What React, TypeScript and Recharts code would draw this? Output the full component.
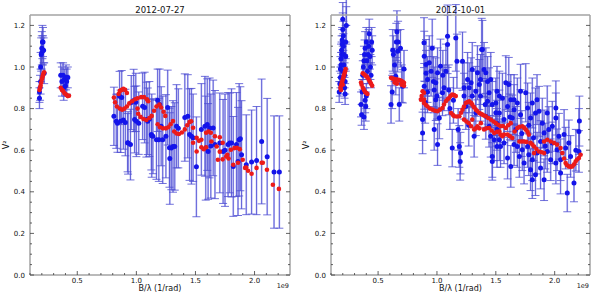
import React from 'react';
import { ScatterChart, Scatter, XAxis, YAxis, ErrorBar } from 'recharts';

const FONT = '"DejaVu Sans", Verdana, sans-serif';
const BLUE = '#1414ea';
const RED = '#ec1a1a';
const FRAME = '#a3a3a3';
const TICK = '#3a3a3a';

const titles = ['2012-07-27', '2012-10-01'];
const xLabel = 'B/λ (1/rad)';
const yLabel = 'V²';
const offsetText = '1e9';
const xDomain = [0.1, 2.3];
const yDomain = [0, 1.25];
const xTicks = [0.1, 0.2, 0.3, 0.4, 0.5, 0.6, 0.7, 0.8, 0.9, 1.0, 1.1, 1.2, 1.3, 1.4, 1.5, 1.6, 1.7, 1.8, 1.9, 2.0, 2.1, 2.2];
const xMajor = [0.5, 1.0, 1.5, 2.0];
const yTicks = [0, 0.05, 0.1, 0.15, 0.2, 0.25, 0.3, 0.35, 0.4, 0.45, 0.5, 0.55, 0.6, 0.65, 0.7, 0.75, 0.8, 0.85, 0.9, 0.95, 1.0, 1.05, 1.1, 1.15, 1.2];
const yMajor = [0, 0.2, 0.4, 0.6, 0.8, 1.0, 1.2];

// [B/lambda (1e9), V^2, error]
const leftBlue = [
  [0.18, 0.85, 0.05], [0.18, 0.88, 0.05], [0.185, 0.9, 0.06], [0.19, 0.93, 0.06], [0.19, 1.0, 0.07],
  [0.195, 1.06, 0.08], [0.2, 1.07, 0.08], [0.2, 1.09, 0.08], [0.205, 1.12, 0.08], [0.21, 1.08, 0.07],
  [0.21, 1.12, 0.07], [0.215, 1.08, 0.06], [0.22, 0.97, 0.05],
  [0.36, 0.96, 0.06], [0.37, 0.93, 0.07], [0.38, 0.96, 0.06], [0.385, 0.9, 0.06], [0.39, 0.94, 0.05],
  [0.4, 0.91, 0.05], [0.405, 0.95, 0.06], [0.41, 0.93, 0.06], [0.42, 0.95, 0.05],
  [0.81, 0.763, 0.14], [0.83, 0.739, 0.13], [0.84, 0.73, 0.14], [0.858, 0.859, 0.12], [0.867, 0.739, 0.15],
  [0.876, 0.853, 0.13], [0.89, 0.745, 0.14], [0.907, 0.733, 0.16], [0.926, 0.636, 0.14], [0.93, 0.635, 0.15],
  [0.95, 0.627, 0.17], [0.957, 0.829, 0.13], [0.977, 0.839, 0.15], [0.985, 0.747, 0.16], [0.995, 0.83, 0.14],
  [1.0, 0.739, 0.17], [1.02, 0.73, 0.15], [1.053, 0.811, 0.16], [1.07, 0.805, 0.17], [1.085, 0.747, 0.18],
  [1.096, 0.739, 0.16], [1.11, 0.75, 0.18], [1.127, 0.675, 0.17], [1.13, 0.67, 0.2], [1.14, 0.667, 0.18],
  [1.17, 0.65, 0.19], [1.18, 0.84, 0.15], [1.19, 0.65, 0.2], [1.197, 0.82, 0.17], [1.21, 0.715, 0.19],
  [1.223, 0.65, 0.21], [1.25, 0.667, 0.2], [1.265, 0.805, 0.18], [1.28, 0.612, 0.19], [1.283, 0.56, 0.22],
  [1.296, 0.61, 0.2], [1.31, 0.618, 0.22], [1.325, 0.618, 0.21], [1.34, 0.715, 0.2], [1.355, 0.705, 0.19],
  [1.41, 0.757, 0.21], [1.435, 0.763, 0.2], [1.45, 0.675, 0.22], [1.466, 0.667, 0.23], [1.48, 0.66, 0.21],
  [1.508, 0.52, 0.24], [1.55, 0.7, 0.22], [1.58, 0.715, 0.24], [1.6, 0.723, 0.22], [1.587, 0.61, 0.25],
  [1.607, 0.594, 0.23], [1.62, 0.707, 0.24], [1.63, 0.62, 0.25], [1.65, 0.707, 0.23], [1.665, 0.627, 0.26],
  [1.706, 0.635, 0.24], [1.734, 0.594, 0.25], [1.75, 0.6, 0.27], [1.776, 0.627, 0.25], [1.79, 0.635, 0.24],
  [1.805, 0.635, 0.26], [1.82, 0.522, 0.24], [1.847, 0.627, 0.25], [1.86, 0.546, 0.26], [1.87, 0.65, 0.27],
  [1.88, 0.655, 0.25], [1.89, 0.578, 0.26], [1.93, 0.53, 0.24], [1.975, 0.543, 0.25], [2.017, 0.55, 0.26],
  [2.06, 0.642, 0.3], [2.107, 0.569, 0.28], [2.165, 0.495, 0.27], [2.21, 0.495, 0.27],
];

// [B/lambda (1e9), model V^2]
const leftRed = [
  [0.18, 0.89], [0.185, 0.9], [0.19, 0.91], [0.195, 0.925], [0.2, 0.94], [0.205, 0.95], [0.21, 0.96], [0.215, 0.97], [0.22, 0.975],
  [0.36, 0.9], [0.37, 0.89], [0.38, 0.885], [0.39, 0.875], [0.4, 0.87], [0.41, 0.865], [0.42, 0.86], [0.43, 0.862],
  [0.81, 0.853], [0.82, 0.83], [0.835, 0.81], [0.85, 0.87], [0.86, 0.885], [0.875, 0.89], [0.89, 0.895], [0.905, 0.89],
  [0.92, 0.875], [0.86, 0.8], [0.88, 0.795], [0.9, 0.8], [0.92, 0.81], [0.94, 0.825], [0.965, 0.835], [0.99, 0.845],
  [1.01, 0.85], [1.04, 0.855], [1.065, 0.855], [1.09, 0.845], [1.1, 0.835], [1.01, 0.8], [1.015, 0.775], [1.035, 0.76],
  [1.06, 0.75], [1.085, 0.745], [1.11, 0.755], [1.13, 0.765], [1.15, 0.79], [1.17, 0.81], [1.195, 0.82], [1.21, 0.805],
  [1.23, 0.785], [1.245, 0.765], [1.18, 0.725], [1.2, 0.71], [1.225, 0.705], [1.25, 0.705], [1.27, 0.71], [1.29, 0.725],
  [1.31, 0.74], [1.32, 0.69], [1.34, 0.68], [1.36, 0.678], [1.385, 0.685], [1.41, 0.7], [1.43, 0.72], [1.45, 0.735],
  [1.464, 0.739], [1.48, 0.708], [1.48, 0.636], [1.51, 0.66], [1.51, 0.594], [1.53, 0.645], [1.55, 0.65], [1.55, 0.614],
  [1.57, 0.605], [1.59, 0.614], [1.59, 0.684], [1.61, 0.69], [1.63, 0.684], [1.635, 0.642], [1.665, 0.667], [1.68, 0.618],
  [1.69, 0.554], [1.706, 0.662], [1.706, 0.593], [1.73, 0.636], [1.73, 0.556], [1.76, 0.57], [1.77, 0.578], [1.78, 0.56],
  [1.8, 0.602], [1.82, 0.53], [1.83, 0.61], [1.85, 0.612], [1.86, 0.54], [1.875, 0.605], [1.9, 0.554], [1.92, 0.515],
  [1.93, 0.517], [1.945, 0.501], [1.975, 0.487], [2.017, 0.515], [2.06, 0.54], [2.07, 0.54], [2.105, 0.506],
  [2.155, 0.434], [2.206, 0.414],
];

const rightBlue = [
  [0.17, 0.88, 0.05], [0.175, 0.92, 0.06], [0.18, 0.95, 0.05], [0.18, 0.99, 0.06], [0.185, 1.01, 0.06],
  [0.185, 1.04, 0.07], [0.19, 1.06, 0.06], [0.19, 1.08, 0.07], [0.195, 1.11, 0.07], [0.195, 1.13, 0.06],
  [0.2, 1.18, 0.08], [0.2, 1.23, 0.08], [0.205, 1.15, 0.07], [0.205, 1.1, 0.06], [0.21, 1.06, 0.06],
  [0.21, 1.01, 0.05], [0.215, 0.96, 0.06], [0.215, 0.9, 0.05], [0.22, 0.87, 0.05], [0.22, 0.93, 0.06],
  [0.225, 1.05, 0.07], [0.225, 1.12, 0.08], [0.23, 1.2, 0.09], [0.23, 1.28, 0.08], [0.2, 0.98, 0.05],
  [0.355, 0.82, 0.06], [0.36, 0.77, 0.05], [0.365, 0.88, 0.06], [0.37, 0.96, 0.07], [0.375, 1.0, 0.06],
  [0.38, 1.03, 0.07], [0.385, 1.06, 0.07], [0.39, 1.09, 0.08], [0.395, 0.81, 0.07], [0.4, 0.86, 0.06],
  [0.4, 1.12, 0.07], [0.405, 1.03, 0.06], [0.41, 0.98, 0.06], [0.415, 1.06, 0.07], [0.42, 1.1, 0.08],
  [0.425, 1.16, 0.07], [0.43, 1.05, 0.06], [0.435, 1.0, 0.06], [0.44, 0.96, 0.06], [0.445, 1.12, 0.07],
  [0.45, 1.08, 0.07], [0.39, 0.84, 0.06], [0.38, 0.76, 0.06],
  [0.61, 0.82, 0.09], [0.62, 0.88, 0.08], [0.624, 1.08, 0.1], [0.63, 1.06, 0.09], [0.64, 1.01, 0.08],
  [0.65, 0.956, 0.09], [0.655, 1.12, 0.09], [0.66, 1.17, 0.1], [0.666, 1.076, 0.1], [0.67, 1.12, 0.1],
  [0.68, 0.82, 0.08], [0.69, 1.09, 0.09], [0.7, 0.92, 0.09], [0.71, 0.907, 0.08], [0.72, 0.99, 0.09],
  [0.878, 0.747, 0.1], [0.878, 0.683, 0.1], [0.89, 1.117, 0.12], [0.892, 1.052, 0.12], [0.892, 0.907, 0.11],
  [0.9, 0.83, 0.1], [0.907, 1.012, 0.12], [0.907, 0.97, 0.11], [0.92, 0.88, 0.1], [0.92, 0.94, 0.11], [0.935, 1.02, 0.13],
  [0.95, 0.98, 0.12], [0.96, 1.09, 0.14], [0.97, 0.93, 0.12], [0.977, 0.7, 0.1], [0.977, 0.89, 0.11], [0.99, 0.924, 0.12],
  [0.99, 0.843, 0.1], [1.0, 0.86, 0.11], [1.005, 0.627, 0.1], [1.005, 0.972, 0.12], [1.02, 0.755, 0.1], [1.03, 1.004, 0.13],
  [1.047, 0.876, 0.11], [1.05, 0.96, 0.12],
  [1.06, 0.9, 0.11], [1.076, 0.98, 0.13], [1.09, 1.108, 0.14], [1.09, 1.148, 0.15], [1.1, 0.89, 0.12],
  [1.11, 0.8, 0.1], [1.13, 0.61, 0.09], [1.14, 0.84, 0.11], [1.16, 1.14, 0.16], [1.17, 1.028, 0.13],
  [1.18, 0.7, 0.1], [1.19, 0.618, 0.1], [1.197, 0.546, 0.09], [1.2, 0.586, 0.1], [1.217, 1.028, 0.14],
  [1.23, 0.9, 0.12], [1.23, 0.86, 0.11], [1.245, 0.81, 0.11], [1.26, 0.94, 0.13], [1.27, 0.72, 0.1], [1.274, 0.9, 0.12],
  [1.29, 0.924, 0.12], [1.3, 0.988, 0.13], [1.3, 0.86, 0.12], [1.316, 0.667, 0.1], [1.33, 0.78, 0.11], [1.33, 0.883, 0.12],
  [1.344, 0.972, 0.13], [1.36, 0.916, 0.12], [1.37, 0.86, 0.12], [1.37, 0.94, 0.12], [1.38, 1.084, 0.15],
  [1.386, 1.084, 0.14], [1.4, 0.988, 0.13],
  [1.41, 0.82, 0.11], [1.415, 0.972, 0.12], [1.415, 0.763, 0.11], [1.43, 0.93, 0.12], [1.43, 0.835, 0.11],
  [1.443, 0.876, 0.12], [1.443, 0.715, 0.1], [1.457, 0.94, 0.13], [1.457, 0.667, 0.1], [1.47, 0.57, 0.1],
  [1.47, 0.546, 0.09], [1.47, 0.82, 0.11], [1.486, 0.65, 0.1], [1.5, 0.78, 0.11],
  [1.5, 0.827, 0.12], [1.51, 0.73, 0.11], [1.51, 0.883, 0.12], [1.51, 0.618, 0.1], [1.51, 0.7, 0.1], [1.53, 0.86, 0.12],
  [1.53, 0.779, 0.11], [1.53, 0.65, 0.1], [1.54, 0.618, 0.1], [1.556, 0.85, 0.12], [1.57, 0.635, 0.1], [1.57, 0.747, 0.11],
  [1.585, 0.924, 0.13], [1.6, 0.81, 0.12],
  [1.6, 0.562, 0.1], [1.61, 0.916, 0.13], [1.62, 0.76, 0.11], [1.627, 0.843, 0.12], [1.627, 0.522, 0.1],
  [1.64, 0.755, 0.11], [1.655, 0.795, 0.12], [1.655, 0.627, 0.1], [1.655, 0.843, 0.12], [1.67, 0.7, 0.11],
  [1.683, 0.827, 0.12], [1.683, 0.618, 0.1], [1.7, 0.57, 0.1],
  [1.71, 0.771, 0.12], [1.71, 0.883, 0.13], [1.72, 0.68, 0.11], [1.725, 0.602, 0.1], [1.74, 0.538, 0.1],
  [1.754, 0.876, 0.14], [1.77, 0.803, 0.12],
  [1.77, 0.618, 0.1], [1.78, 0.72, 0.11], [1.78, 0.578, 0.1], [1.795, 0.755, 0.12], [1.795, 0.506, 0.1],
  [1.81, 0.458, 0.09], [1.81, 0.554, 0.1], [1.81, 0.827, 0.12],
  [1.82, 0.66, 0.11], [1.837, 0.779, 0.12], [1.837, 0.482, 0.1], [1.85, 0.586, 0.1], [1.85, 0.843, 0.12],
  [1.867, 0.787, 0.12], [1.88, 0.514, 0.1], [1.88, 0.642, 0.1], [1.895, 0.73, 0.12], [1.91, 0.458, 0.1],
  [1.91, 0.683, 0.11], [1.92, 0.62, 0.11], [1.937, 0.779, 0.13],
  [1.937, 0.594, 0.1], [1.95, 0.699, 0.11], [1.966, 0.554, 0.1], [1.98, 0.715, 0.12], [1.98, 0.635, 0.1],
  [2.01, 0.803, 0.13], [2.01, 0.755, 0.12], [2.01, 0.538, 0.1], [2.02, 0.602, 0.1],
  [2.036, 0.667, 0.11], [2.05, 0.49, 0.1], [2.05, 0.554, 0.1], [2.08, 0.675, 0.12], [2.093, 0.61, 0.1],
  [2.107, 0.394, 0.09], [2.12, 0.635, 0.11], [2.135, 0.57, 0.1],
  [2.164, 0.442, 0.09], [2.18, 0.6, 0.1], [2.206, 0.69, 0.11], [2.206, 0.594, 0.1], [2.21, 0.74, 0.12],
];

const rightRed = [
  [0.18, 0.9], [0.185, 0.91], [0.19, 0.92], [0.195, 0.93], [0.2, 0.94], [0.205, 0.95], [0.21, 0.96], [0.215, 0.97],
  [0.22, 0.98], [0.225, 0.99], [0.185, 0.89], [0.2, 0.915],
  [0.355, 0.925], [0.36, 0.915], [0.37, 0.9], [0.38, 0.89], [0.39, 0.88], [0.4, 0.875], [0.41, 0.87], [0.37, 0.97],
  [0.38, 0.965], [0.39, 0.96], [0.4, 0.955], [0.41, 0.95], [0.42, 0.94], [0.43, 0.93], [0.44, 0.92], [0.45, 0.91],
  [0.61, 0.948], [0.62, 0.945], [0.63, 0.943], [0.64, 0.942], [0.65, 0.94], [0.666, 0.94], [0.68, 0.937], [0.69, 0.935],
  [0.7, 0.932], [0.71, 0.928], [0.72, 0.924], [0.64, 0.925], [0.66, 0.92], [0.7, 0.915], [0.72, 0.91],
  [0.864, 0.843], [0.87, 0.86], [0.878, 0.883], [0.89, 0.876], [0.89, 0.827], [0.89, 0.843], [0.905, 0.818], [0.92, 0.81],
  [0.94, 0.8], [0.963, 0.795], [0.985, 0.79], [1.005, 0.787], [1.025, 0.795], [1.047, 0.803], [1.06, 0.82], [1.076, 0.835],
  [1.09, 0.845], [1.1, 0.85], [1.115, 0.86], [1.13, 0.867], [1.145, 0.865], [1.16, 0.86], [1.12, 0.779], [1.135, 0.77],
  [1.147, 0.763], [1.17, 0.762], [1.19, 0.763], [1.205, 0.78], [1.217, 0.795], [1.23, 0.81], [1.245, 0.827], [1.26, 0.832],
  [1.274, 0.835], [1.29, 0.828], [1.3, 0.819], [1.315, 0.807], [1.33, 0.795], [1.345, 0.787], [1.36, 0.779], [1.373, 0.775],
  [1.386, 0.771], [1.4, 0.767], [1.415, 0.763], [1.435, 0.755], [1.457, 0.747], [1.48, 0.738], [1.5, 0.73], [1.52, 0.722],
  [1.54, 0.715], [1.23, 0.747], [1.25, 0.738], [1.27, 0.73], [1.29, 0.715], [1.3, 0.747], [1.316, 0.7], [1.33, 0.705],
  [1.344, 0.715], [1.36, 0.705], [1.373, 0.73], [1.4, 0.7], [1.42, 0.705], [1.443, 0.707], [1.465, 0.695], [1.486, 0.683],
  [1.51, 0.688], [1.53, 0.69], [1.556, 0.667], [1.56, 0.716], [1.585, 0.707], [1.605, 0.72], [1.627, 0.73],
  [1.54, 0.675], [1.57, 0.675], [1.6, 0.675], [1.62, 0.667], [1.64, 0.659], [1.66, 0.69], [1.683, 0.707], [1.7, 0.712],
  [1.725, 0.715], [1.74, 0.708], [1.754, 0.699], [1.77, 0.688], [1.78, 0.675], [1.7, 0.642], [1.72, 0.642], [1.74, 0.642],
  [1.76, 0.64], [1.795, 0.635], [1.81, 0.627], [1.825, 0.618], [1.825, 0.586], [1.845, 0.606], [1.867, 0.594], [1.89, 0.59],
  [1.91, 0.586], [1.91, 0.642], [1.937, 0.65], [1.966, 0.642], [1.994, 0.635], [2.02, 0.627], [2.05, 0.61], [2.065, 0.586],
  [2.08, 0.56], [2.093, 0.538], [2.105, 0.528], [2.12, 0.522], [2.135, 0.52], [2.15, 0.522], [2.165, 0.532], [2.178, 0.546],
  [2.19, 0.555], [2.206, 0.562], [2.22, 0.578],
];

const near = (list: number[], v: number) => list.some((m) => Math.abs(m - v) < 1e-6);

const BottomTick = (p: any) => {
  const v = p.payload.value;
  const major = near(xMajor, v);
  return (
    <g>
      <line x1={p.x} x2={p.x} y1={p.y} y2={p.y - (major ? 4 : 2)} stroke={TICK} strokeWidth={0.8} />
      {major && (
        <text x={p.x} y={p.y + 8} textAnchor="middle" fontSize={7} fontFamily={FONT} fill="#111">
          {v.toFixed(1)}
        </text>
      )}
    </g>
  );
};
const TopTick = (p: any) => {
  const major = near(xMajor, p.payload.value);
  return <line x1={p.x} x2={p.x} y1={p.y} y2={p.y + (major ? 4 : 2)} stroke={TICK} strokeWidth={0.8} />;
};
const LeftTick = (p: any) => {
  const v = p.payload.value;
  const major = near(yMajor, v);
  return (
    <g>
      <line x1={p.x} x2={p.x + (major ? 4 : 2)} y1={p.y} y2={p.y} stroke={TICK} strokeWidth={0.8} />
      {major && (
        <text x={p.x - 5} y={p.y + 2.5} textAnchor="end" fontSize={7} fontFamily={FONT} fill="#111">
          {v.toFixed(1)}
        </text>
      )}
    </g>
  );
};
const RightTick = (p: any) => {
  const major = near(yMajor, p.payload.value);
  return <line x1={p.x} x2={p.x - (major ? 4 : 2)} y1={p.y} y2={p.y} stroke={TICK} strokeWidth={0.8} />;
};

const XLabel = (p: any) => {
  const vb = p.viewBox || { x: 0, y: 0, width: 0, height: 0 };
  return (
    <g>
      <text x={vb.x + vb.width / 2} y={vb.y + 16} textAnchor="middle" fontSize={8} fontFamily={FONT} fill="#111">
        {xLabel}
      </text>
      <text x={vb.x + vb.width - 1} y={vb.y + 13} textAnchor="end" fontSize={6.5} fontFamily={FONT} fill="#111">
        {offsetText}
      </text>
    </g>
  );
};
const TitleLabel = (p: any) => {
  const vb = p.viewBox || { x: 0, y: 0, width: 0, height: 0 };
  return (
    <text x={vb.x + vb.width / 2} y={vb.y + vb.height - 2.5} textAnchor="middle" fontSize={8.5} fontFamily={FONT} fill="#111">
      {p.title}
    </text>
  );
};
const YLabel = (p: any) => {
  const vb = p.viewBox || { x: 0, y: 0, width: 0, height: 0 };
  const cx = vb.x + 9;
  const cy = vb.y + vb.height / 2;
  return (
    <text x={cx} y={cy} transform={`rotate(-90, ${cx}, ${cy})`} textAnchor="middle" fontSize={8} fontFamily={FONT} fill="#111">
      {yLabel}
    </text>
  );
};

const blueDot = (p: any) => <circle cx={p.cx} cy={p.cy} r={2.5} fill={BLUE} />;
const redDot = (p: any) => <circle cx={p.cx} cy={p.cy} r={2.3} fill={RED} />;

const toBlue = (arr: number[][]) => arr.map(([x, y, e]) => ({ x, y, e }));
const toRed = (arr: number[][]) => arr.map(([x, y]) => ({ x, y }));

function Panel({ title, blue, red, yAxisWidth }: { title: string; blue: number[][]; red: number[][]; yAxisWidth: number }) {
  return (
    <ScatterChart width={300} height={299} margin={{ top: 14, right: 9, bottom: 4, left: 0 }}>
      <XAxis
        dataKey="x"
        type="number"
        domain={xDomain}
        allowDataOverflow
        ticks={xTicks}
        interval={0}
        tickLine={false}
        tickSize={0}
        tickMargin={0}
        tick={BottomTick}
        height={20}
        axisLine={{ stroke: FRAME, strokeWidth: 1.5 }}
        label={<XLabel />}
      />
      <XAxis
        xAxisId="top"
        orientation="top"
        type="number"
        domain={xDomain}
        allowDataOverflow
        ticks={xTicks}
        interval={0}
        tickLine={false}
        tickSize={0}
        tickMargin={0}
        tick={TopTick}
        height={1}
        axisLine={{ stroke: FRAME, strokeWidth: 1.5 }}
        label={<TitleLabel title={title} />}
      />
      <YAxis
        dataKey="y"
        type="number"
        domain={yDomain}
        allowDataOverflow
        ticks={yTicks}
        interval={0}
        tickLine={false}
        tickSize={0}
        tickMargin={0}
        tick={LeftTick}
        width={yAxisWidth}
        axisLine={{ stroke: FRAME, strokeWidth: 1.5 }}
        label={<YLabel />}
      />
      <YAxis
        yAxisId="right"
        orientation="right"
        type="number"
        domain={yDomain}
        allowDataOverflow
        ticks={yTicks}
        interval={0}
        tickLine={false}
        tickSize={0}
        tickMargin={0}
        tick={RightTick}
        width={1}
        axisLine={{ stroke: FRAME, strokeWidth: 1.5 }}
      />
      <Scatter data={toBlue(blue)} dataKey="y" fill={BLUE} shape={blueDot} isAnimationActive={false}>
        <ErrorBar dataKey="e" direction="y" width={0} strokeWidth={1.8} stroke="#c3c3f5" isAnimationActive={false} />
        <ErrorBar dataKey="e" direction="y" width={4} strokeWidth={0.8} stroke="#4c4cd2" isAnimationActive={false} />
      </Scatter>
      <Scatter data={toRed(red)} dataKey="y" fill={RED} shape={redDot} isAnimationActive={false} />
    </ScatterChart>
  );
}

export default function App() {
  return (
    <div style={{ position: 'absolute', left: 0, top: 0, width: 600, height: 299, background: '#fff' }}>
      <div style={{ position: 'absolute', left: 0, top: 0 }}>
        <Panel title={titles[0]} blue={leftBlue} red={leftRed} yAxisWidth={30} />
      </div>
      <div style={{ position: 'absolute', left: 300, top: 0 }}>
        <Panel title={titles[1]} blue={rightBlue} red={rightRed} yAxisWidth={31} />
      </div>
    </div>
  );
}
